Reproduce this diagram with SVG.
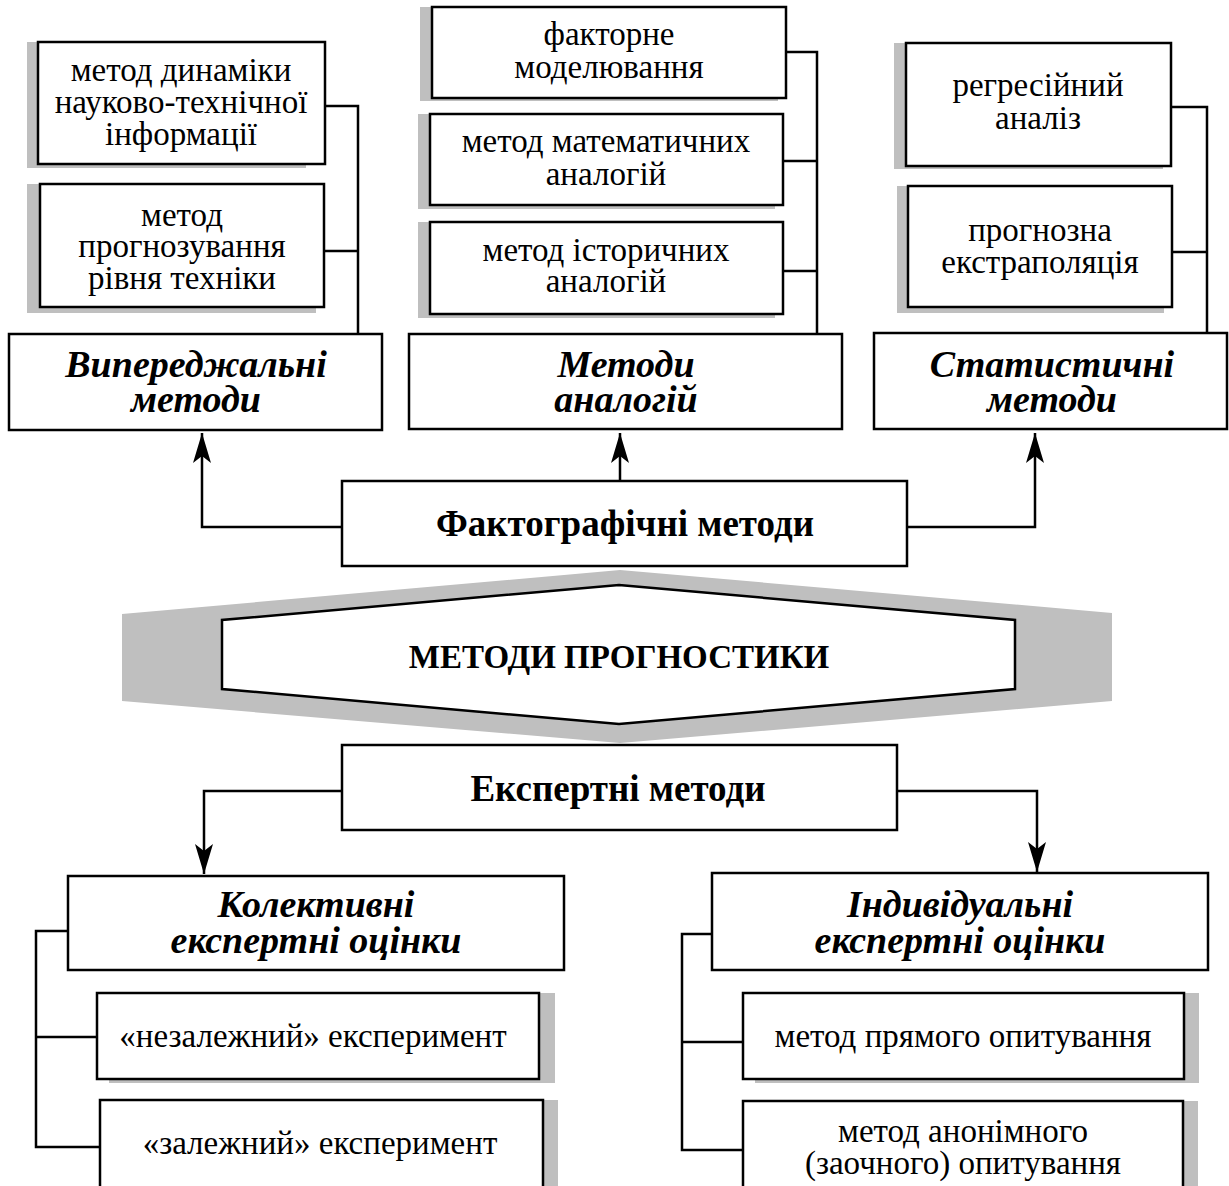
<svg xmlns="http://www.w3.org/2000/svg" width="1229" height="1186" viewBox="0 0 1229 1186">
<style>
.box{fill:#fff;stroke:#000;stroke-width:2.5}
.sh{fill:#bfbfbf}
.t{font-family:"Liberation Serif","Times New Roman",serif;font-size:33px;text-anchor:middle;fill:#000}
.h{font-family:"Liberation Serif","Times New Roman",serif;font-size:38px;font-weight:bold;font-style:italic;text-anchor:middle;fill:#000}
.b{font-family:"Liberation Serif","Times New Roman",serif;font-size:37px;font-weight:bold;text-anchor:middle;fill:#000}
.c{fill:none;stroke:#000;stroke-width:2.5}
</style>
<defs>
<marker id="arr" viewBox="0 0 30 18" refX="30" refY="9" markerWidth="30" markerHeight="18" markerUnits="userSpaceOnUse" orient="auto">
<path d="M0,0 L30,9 L0,18 L7,9 Z" fill="#000"/>
</marker>
</defs>
<rect width="1229" height="1186" fill="#fff"/>

<g id="connectors">
<path class="c" d="M325,106 H358 V334"/>
<path class="c" d="M324,251 H358"/>
<path class="c" d="M786,52 H817 V334"/>
<path class="c" d="M783,161 H817"/>
<path class="c" d="M783,271 H817"/>
<path class="c" d="M1171,107 H1207 V333"/>
<path class="c" d="M1172,252 H1207"/>
<path class="c" d="M342,527 H202 V433" marker-end="url(#arr)"/>
<path class="c" d="M620,481 V433" marker-end="url(#arr)"/>
<path class="c" d="M907,527 H1035 V433" marker-end="url(#arr)"/>
<path class="c" d="M342,791 H204 V874" marker-end="url(#arr)"/>
<path class="c" d="M897,791 H1037 V872" marker-end="url(#arr)"/>
<path class="c" d="M68,931 H36 V1147 H100"/>
<path class="c" d="M36,1037 H97"/>
<path class="c" d="M712,934 H682 V1150 H743"/>
<path class="c" d="M682,1042 H743"/>
</g>

<g id="n-dynamika">
<rect class="sh" x="27" y="42" width="279" height="126"/>
<rect class="box" x="38" y="42" width="287" height="122"/>
<text class="t" x="181" y="81">метод динаміки</text>
<text class="t" x="181" y="113">науково-технічної</text>
<text class="t" x="181" y="145">інформації</text>
</g>
<g id="n-rivnia">
<rect class="sh" x="27" y="184" width="289" height="129"/>
<rect class="box" x="40" y="184" width="284" height="123"/>
<text class="t" x="182" y="226">метод</text>
<text class="t" x="182" y="257">прогнозування</text>
<text class="t" x="182" y="289">рівня техніки</text>
</g>
<g id="n-faktorne">
<rect class="sh" x="420" y="7" width="358" height="94"/>
<rect class="box" x="432" y="7" width="354" height="91"/>
<text class="t" x="609" y="45">факторне</text>
<text class="t" x="609" y="78">моделювання</text>
</g>
<g id="n-matem">
<rect class="sh" x="418" y="114" width="357" height="95"/>
<rect class="box" x="430" y="114" width="353" height="91"/>
<text class="t" x="606" y="152">метод математичних</text>
<text class="t" x="606" y="185">аналогій</text>
</g>
<g id="n-istor">
<rect class="sh" x="418" y="222" width="357" height="96"/>
<rect class="box" x="430" y="222" width="353" height="92"/>
<text class="t" x="606" y="261">метод історичних</text>
<text class="t" x="606" y="292">аналогій</text>
</g>
<g id="n-regres">
<rect class="sh" x="894" y="43" width="269" height="126"/>
<rect class="box" x="906" y="43" width="265" height="123"/>
<text class="t" x="1038" y="96">регресійний</text>
<text class="t" x="1038" y="129">аналіз</text>
</g>
<g id="n-ekstrap">
<rect class="sh" x="897" y="186" width="267" height="127"/>
<rect class="box" x="908" y="186" width="264" height="121"/>
<text class="t" x="1040" y="241">прогнозна</text>
<text class="t" x="1040" y="273">екстраполяція</text>
</g>

<g id="n-vyperedzh">
<rect class="box" x="9" y="334" width="373" height="96"/>
<text class="h" x="196" y="377">Випереджальні</text>
<text class="h" x="196" y="412">методи</text>
</g>
<g id="n-analogii">
<rect class="box" x="409" y="334" width="433" height="95"/>
<text class="h" x="626" y="377">Методи</text>
<text class="h" x="626" y="412">аналогій</text>
</g>
<g id="n-statyst">
<rect class="box" x="874" y="333" width="353" height="96"/>
<text class="h" x="1052" y="377">Статистичні</text>
<text class="h" x="1052" y="412">методи</text>
</g>

<g id="n-faktograf">
<rect class="box" x="342" y="481" width="565" height="85"/>
<text class="b" x="625" y="536">Фактографічні методи</text>
</g>

<g id="n-metody">
<polygon fill="#bfbfbf" points="620,570 1112,613 1112,701 620,743 122,701 122,614"/>
<polygon fill="#fff" stroke="#000" stroke-width="2.5" points="619,585 1015,620 1015,689 619,724 222,689 222,620"/>
<text class="b" x="619" y="668" style="font-size:33px">МЕТОДИ ПРОГНОСТИКИ</text>
</g>

<g id="n-ekspert">
<rect class="box" x="342" y="745" width="555" height="85"/>
<text class="b" x="618" y="801">Експертні методи</text>
</g>

<g id="n-kolekt">
<rect class="box" x="68" y="876" width="496" height="94"/>
<text class="h" x="316" y="917">Колективні</text>
<text class="h" x="316" y="953">експертні оцінки</text>
</g>
<g id="n-indyv">
<rect class="box" x="712" y="873" width="496" height="97"/>
<text class="h" x="960" y="917">Індивідуальні</text>
<text class="h" x="960" y="953">експертні оцінки</text>
</g>

<g id="n-nezal">
<rect class="sh" x="109" y="993" width="446" height="90"/>
<rect class="box" x="97" y="993" width="442" height="86"/>
<text class="t" x="313" y="1047">«незалежний» експеримент</text>
</g>
<g id="n-zal">
<rect class="sh" x="112" y="1100" width="446" height="100"/>
<rect class="box" x="100" y="1100" width="443" height="100"/>
<text class="t" x="320" y="1154">«залежний» експеримент</text>
</g>
<g id="n-pryam">
<rect class="sh" x="755" y="993" width="444" height="90"/>
<rect class="box" x="743" y="993" width="441" height="86"/>
<text class="t" x="963" y="1047">метод прямого опитування</text>
</g>
<g id="n-anonim">
<rect class="sh" x="755" y="1101" width="443" height="100"/>
<rect class="box" x="743" y="1101" width="440" height="100"/>
<text class="t" x="963" y="1142">метод анонімного</text>
<text class="t" x="963" y="1174">(заочного) опитування</text>
</g>
</svg>
